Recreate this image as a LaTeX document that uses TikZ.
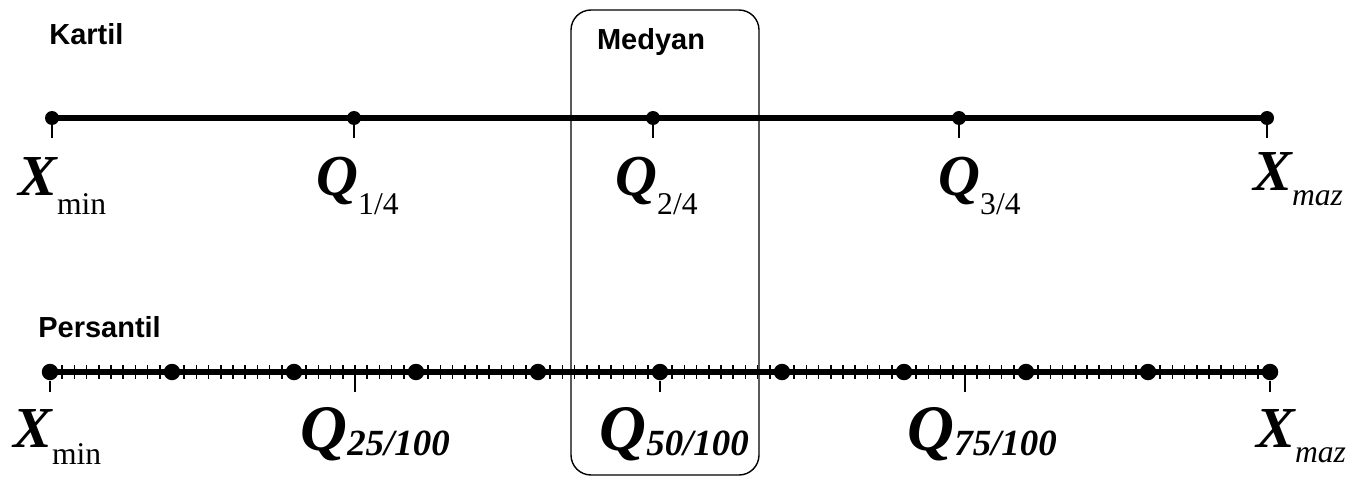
\documentclass[tikz,border=0pt]{standalone}
\usepackage{fontspec}
\setmainfont{Liberation Serif}
\setsansfont{Liberation Sans}
\newcommand{\bigsym}[1]{{\fontsize{33}{33}\selectfont\bfseries\itshape #1}}
\newcommand{\hugesym}[1]{{\fontsize{37}{37}\selectfont\bfseries\itshape #1}}
\newcommand{\lowsub}[3]{\raisebox{-#1}{\fontsize{#2}{#2}\selectfont #3}}
\begin{document}
\begin{tikzpicture}[x=0.02cm, y=-0.02cm, dot/.style={circle, fill=black, inner sep=0pt, minimum size=0.28cm}, bigdot/.style={dot, minimum size=0.33cm}, axisline/.style={line width=3.8pt}, longtick/.style={line width=0.9pt}, minortick/.style={line width=1pt}, title/.style={font=\sffamily\bfseries\fontsize{16.5}{16.5}\selectfont, inner sep=0pt, anchor=west}, value/.style={anchor=base west, inner sep=0pt}]
	\useasboundingbox (0,0) rectangle (1353,477);
	% median box
	\draw[line width=0.8pt, rounded corners=0.4cm] (571,10) rectangle (759,475);
	\node[title, anchor=center] (medyan) at (651,42) {Medyan};
	% quartiles
	\node[title] (kartil) at (49,34) {Kartil};
	\foreach \x [count=\i from 0] in {52,354,653,959,1267}
		\node[dot] (k\i) at (\x,118) {};
	\draw[axisline] (k0.center) -- (k4.center);
	\foreach \i in {0,...,4}
		\draw[longtick] (k\i.center) -- ++(0,20);
	\node[value] (kxmin) at (18,195) {\bigsym{X}\lowsub{11pt}{18}{min}};
	\node[value] (kq1) at (316,195) {\bigsym{Q}\lowsub{11pt}{18}{1/4}};
	\node[value] (kq2) at (615,195) {\bigsym{Q}\lowsub{11pt}{18}{2/4}};
	\node[value] (kq3) at (938,195) {\bigsym{Q}\lowsub{11pt}{18}{3/4}};
	\node[value] (kxmax) at (1253,190) {\bigsym{X}\lowsub{9pt}{18}{\itshape maz}};
	% percentiles
	\node[title] (persantil) at (38,327) {Persantil};
	\foreach \i in {0,...,10}
		\node[bigdot] (p\i) at (50+122*\i,372) {};
	\draw[axisline] (p0.center) -- (p10.center);
	\foreach \j in {0,...,100}
		\draw[minortick] (50+12.2*\j,365) -- ++(0,14);
	\coordinate (q25) at (355,372);
	\coordinate (q75) at (965,372);
	\foreach \c in {p0,q25,p5,q75,p10}
		\draw[longtick] (\c) -- ++(0,20);
	\node[value] (pxmin) at (13,447) {\bigsym{X}\lowsub{10pt}{18}{min}};
	\node[value] (pq25) at (300,450) {\hugesym{Q}\lowsub{3pt}{21}{\bfseries\itshape 25/100}};
	\node[value] (pq50) at (599,450) {\hugesym{Q}\lowsub{3pt}{21}{\bfseries\itshape 50/100}};
	\node[value] (pq75) at (907,450) {\hugesym{Q}\lowsub{3pt}{21}{\bfseries\itshape 75/100}};
	\node[value] (pxmax) at (1256,447) {\bigsym{X}\lowsub{9pt}{18}{\itshape maz}};
\end{tikzpicture}
\end{document}
